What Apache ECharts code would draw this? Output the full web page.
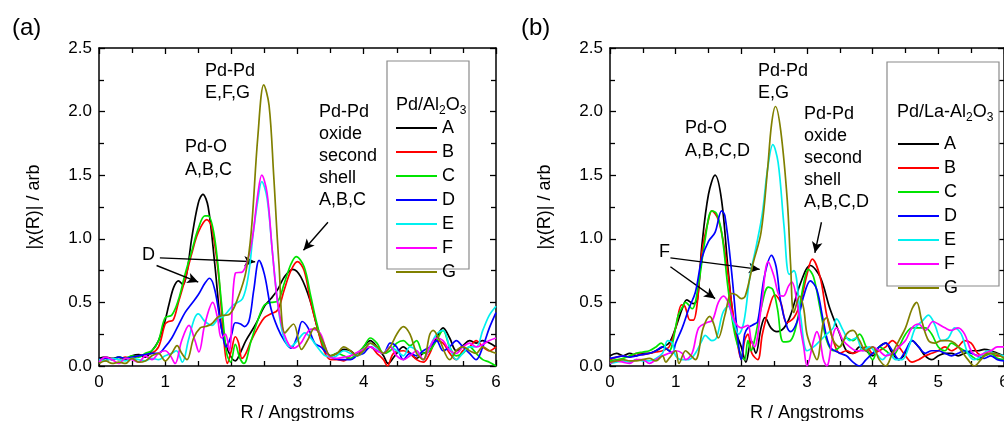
<!DOCTYPE html>
<html>
<head>
<meta charset="utf-8">
<script src="https://cdn.jsdelivr.net/npm/echarts/dist/echarts.min.js"></script>
<style>
html,body{margin:0;padding:0;background:#fff}
#chart{width:1004px;height:421px}
</style>
</head>
<body>
<div id="chart"></div>
<script>
// Fourier-transform magnitudes |chi(R)| for samples A-G, two catalyst supports.
const sampleNames = ['A', 'B', 'C', 'D', 'E', 'F', 'G'];

// (a) Pd/Al2O3, [R (Angstrom), |chi(R)|]
const aA = [[0,0.06],[0.1,0.07],[0.2,0.06],[0.3,0.07],[0.4,0.05],[0.5,0.08],[0.6,0.09],[0.7,0.07],[0.8,0.12],[0.9,0.2],[1.0,0.36],[1.06,0.49],[1.13,0.62],[1.2,0.67],[1.27,0.64],[1.33,0.74],[1.4,1.0],[1.5,1.28],[1.57,1.35],[1.65,1.25],[1.75,0.8],[1.85,0.3],[1.95,0.12],[2.06,0.04],[2.15,0.12],[2.22,0.2],[2.37,0.33],[2.5,0.47],[2.6,0.53],[2.7,0.6],[2.8,0.7],[2.93,0.76],[3.05,0.7],[3.2,0.5],[3.3,0.3],[3.4,0.15],[3.5,0.08],[3.6,0.1],[3.7,0.13],[3.8,0.12],[3.9,0.08],[4.0,0.15],[4.1,0.2],[4.2,0.15],[4.3,0.08],[4.37,0.02],[4.47,0.08],[4.6,0.15],[4.7,0.1],[4.8,0.06],[4.9,0.1],[5.0,0.12],[5.1,0.22],[5.2,0.3],[5.3,0.22],[5.4,0.12],[5.5,0.16],[5.6,0.2],[5.7,0.18],[5.8,0.2],[5.9,0.18],[6.0,0.15]];
const aB = [[0,0.05],[0.1,0.04],[0.2,0.06],[0.3,0.05],[0.4,0.07],[0.5,0.06],[0.6,0.08],[0.7,0.09],[0.8,0.1],[0.9,0.15],[1.0,0.33],[1.05,0.35],[1.12,0.36],[1.2,0.5],[1.3,0.68],[1.4,0.88],[1.5,1.05],[1.63,1.15],[1.7,1.1],[1.8,0.75],[1.88,0.25],[1.94,0.02],[2.0,0.12],[2.06,0.23],[2.11,0.18],[2.16,0.06],[2.22,0.1],[2.3,0.2],[2.4,0.3],[2.5,0.38],[2.6,0.41],[2.7,0.44],[2.8,0.6],[2.9,0.75],[3.0,0.82],[3.1,0.75],[3.2,0.5],[3.3,0.3],[3.4,0.12],[3.5,0.05],[3.6,0.05],[3.7,0.04],[3.8,0.08],[3.9,0.1],[4.0,0.12],[4.1,0.15],[4.2,0.1],[4.3,0.05],[4.36,0.0],[4.45,0.1],[4.6,0.12],[4.7,0.1],[4.8,0.05],[4.9,0.03],[5.0,0.1],[5.1,0.2],[5.2,0.18],[5.3,0.1],[5.4,0.05],[5.5,0.12],[5.6,0.15],[5.7,0.2],[5.8,0.15],[5.9,0.12],[6.0,0.15]];
const aC = [[0,0.04],[0.1,0.06],[0.2,0.05],[0.3,0.07],[0.4,0.06],[0.5,0.08],[0.6,0.07],[0.7,0.1],[0.8,0.12],[0.9,0.2],[1.0,0.38],[1.1,0.4],[1.2,0.52],[1.3,0.72],[1.4,0.9],[1.5,1.08],[1.6,1.18],[1.65,1.18],[1.75,1.0],[1.85,0.5],[1.93,0.1],[1.99,0.03],[2.06,0.17],[2.13,0.06],[2.19,0.02],[2.3,0.2],[2.4,0.36],[2.5,0.48],[2.6,0.5],[2.7,0.51],[2.8,0.65],[2.9,0.8],[2.98,0.86],[3.1,0.78],[3.2,0.55],[3.3,0.32],[3.4,0.15],[3.5,0.08],[3.6,0.1],[3.7,0.08],[3.8,0.06],[3.9,0.1],[4.0,0.15],[4.1,0.22],[4.2,0.18],[4.3,0.1],[4.4,0.12],[4.5,0.18],[4.6,0.2],[4.7,0.16],[4.8,0.2],[4.9,0.1],[5.0,0.12],[5.1,0.2],[5.2,0.28],[5.3,0.15],[5.4,0.08],[5.5,0.1],[5.6,0.15],[5.7,0.1],[5.8,0.05],[5.9,0.03],[6.0,0.0]];
const aD = [[0,0.05],[0.1,0.06],[0.2,0.05],[0.3,0.07],[0.4,0.06],[0.5,0.07],[0.6,0.08],[0.7,0.09],[0.8,0.1],[0.9,0.1],[1.0,0.15],[1.1,0.22],[1.2,0.32],[1.3,0.42],[1.4,0.49],[1.5,0.56],[1.6,0.65],[1.67,0.69],[1.75,0.6],[1.85,0.3],[1.92,0.15],[2.0,0.24],[2.06,0.34],[2.14,0.33],[2.2,0.31],[2.27,0.36],[2.34,0.6],[2.42,0.83],[2.5,0.72],[2.6,0.45],[2.7,0.3],[2.8,0.2],[2.9,0.14],[3.0,0.24],[3.07,0.35],[3.16,0.3],[3.26,0.18],[3.35,0.15],[3.45,0.1],[3.55,0.06],[3.7,0.05],[3.8,0.05],[3.9,0.08],[4.0,0.1],[4.1,0.15],[4.2,0.12],[4.3,0.1],[4.4,0.18],[4.5,0.15],[4.6,0.05],[4.7,0.1],[4.8,0.08],[4.9,0.12],[5.0,0.15],[5.1,0.2],[5.2,0.12],[5.3,0.15],[5.4,0.2],[5.5,0.15],[5.6,0.1],[5.7,0.05],[5.8,0.15],[5.9,0.3],[6.0,0.42]];
const aE = [[0,0.05],[0.1,0.04],[0.2,0.06],[0.3,0.05],[0.4,0.04],[0.5,0.06],[0.6,0.05],[0.7,0.04],[0.8,0.06],[0.9,0.05],[1.0,0.08],[1.1,0.1],[1.17,0.12],[1.26,0.03],[1.35,0.2],[1.44,0.37],[1.5,0.41],[1.6,0.35],[1.71,0.32],[1.8,0.37],[1.9,0.4],[2.03,0.48],[2.17,0.53],[2.26,0.72],[2.33,1.04],[2.4,1.3],[2.46,1.45],[2.54,1.32],[2.62,0.9],[2.7,0.5],[2.78,0.25],[2.89,0.15],[3.0,0.2],[3.11,0.26],[3.2,0.22],[3.3,0.15],[3.42,0.08],[3.55,0.07],[3.7,0.12],[3.8,0.1],[3.9,0.08],[4.0,0.12],[4.1,0.18],[4.2,0.14],[4.3,0.1],[4.4,0.15],[4.5,0.12],[4.6,0.08],[4.7,0.15],[4.8,0.12],[4.9,0.05],[5.0,0.15],[5.1,0.25],[5.2,0.28],[5.3,0.15],[5.4,0.05],[5.5,0.1],[5.6,0.15],[5.7,0.15],[5.8,0.28],[5.9,0.4],[6.0,0.47]];
const aF = [[0,0.03],[0.1,0.07],[0.2,0.05],[0.3,0.02],[0.4,0.06],[0.5,0.05],[0.6,0.03],[0.7,0.08],[0.8,0.05],[0.9,0.1],[1.0,0.12],[1.08,0.08],[1.15,0.02],[1.25,0.2],[1.36,0.32],[1.45,0.2],[1.51,0.11],[1.6,0.33],[1.72,0.5],[1.79,0.38],[1.85,0.22],[1.91,0.25],[1.97,0.12],[2.06,0.73],[2.17,0.74],[2.3,0.95],[2.4,1.35],[2.46,1.5],[2.54,1.36],[2.62,0.9],[2.7,0.5],[2.8,0.25],[2.94,0.14],[3.05,0.18],[3.13,0.25],[3.21,0.29],[3.34,0.26],[3.42,0.15],[3.49,0.07],[3.6,0.06],[3.7,0.07],[3.8,0.08],[3.95,0.12],[4.1,0.15],[4.2,0.12],[4.3,0.1],[4.4,0.15],[4.5,0.08],[4.6,0.05],[4.7,0.08],[4.8,0.12],[4.9,0.05],[5.0,0.15],[5.1,0.22],[5.2,0.2],[5.3,0.12],[5.4,0.1],[5.5,0.15],[5.6,0.18],[5.7,0.15],[5.8,0.17],[5.9,0.2],[6.0,0.22]];
const aG = [[0,0.02],[0.1,0.04],[0.2,0.02],[0.3,0.03],[0.4,0.02],[0.5,0.06],[0.6,0.03],[0.7,0.04],[0.8,0.08],[0.9,0.1],[1.0,0.04],[1.1,0.1],[1.18,0.16],[1.25,0.1],[1.33,0.05],[1.43,0.22],[1.53,0.3],[1.61,0.31],[1.7,0.33],[1.81,0.39],[1.98,0.41],[2.11,0.55],[2.22,0.74],[2.3,1.05],[2.4,1.8],[2.49,2.21],[2.57,2.05],[2.64,1.5],[2.72,0.8],[2.81,0.26],[2.94,0.33],[3.06,0.13],[3.15,0.2],[3.26,0.3],[3.38,0.2],[3.5,0.08],[3.6,0.1],[3.7,0.15],[3.8,0.12],[3.9,0.08],[4.0,0.12],[4.1,0.18],[4.2,0.15],[4.3,0.1],[4.4,0.15],[4.5,0.25],[4.6,0.31],[4.7,0.25],[4.8,0.1],[4.9,0.05],[5.0,0.25],[5.05,0.28],[5.15,0.2],[5.3,0.05],[5.4,0.12],[5.5,0.15],[5.6,0.12],[5.7,0.1],[5.8,0.15],[5.9,0.12],[6.0,0.1]];

// (b) Pd/La-Al2O3, [R (Angstrom), |chi(R)|]
const bA = [[0,0.08],[0.1,0.1],[0.2,0.08],[0.3,0.1],[0.4,0.08],[0.5,0.1],[0.6,0.1],[0.7,0.12],[0.8,0.15],[0.9,0.18],[1.0,0.3],[1.1,0.45],[1.17,0.52],[1.27,0.49],[1.33,0.52],[1.4,0.95],[1.5,1.35],[1.6,1.5],[1.7,1.3],[1.8,0.75],[1.9,0.3],[2.0,0.15],[2.07,0.03],[2.15,0.2],[2.22,0.1],[2.3,0.3],[2.36,0.38],[2.45,0.3],[2.54,0.27],[2.65,0.3],[2.75,0.4],[2.9,0.65],[3.05,0.79],[3.2,0.7],[3.35,0.45],[3.5,0.25],[3.6,0.12],[3.7,0.1],[3.8,0.15],[3.9,0.12],[4.0,0.08],[4.1,0.15],[4.2,0.18],[4.3,0.1],[4.4,0.05],[4.5,0.1],[4.6,0.2],[4.7,0.15],[4.8,0.08],[4.9,0.05],[5.0,0.08],[5.1,0.1],[5.2,0.1],[5.3,0.08],[5.4,0.1],[5.5,0.12],[5.6,0.12],[5.7,0.13],[5.8,0.12],[5.9,0.1],[6.0,0.08]];
const bB = [[0,0.05],[0.1,0.07],[0.2,0.08],[0.3,0.07],[0.4,0.1],[0.5,0.09],[0.6,0.1],[0.7,0.11],[0.8,0.12],[0.9,0.15],[1.0,0.3],[1.09,0.48],[1.14,0.47],[1.22,0.36],[1.27,0.36],[1.33,0.5],[1.4,0.9],[1.5,1.15],[1.55,1.22],[1.65,1.15],[1.75,0.9],[1.85,0.5],[1.95,0.15],[2.0,0.05],[2.05,0.2],[2.1,0.25],[2.16,0.1],[2.25,0.05],[2.32,0.25],[2.42,0.45],[2.51,0.56],[2.6,0.5],[2.69,0.34],[2.8,0.38],[2.9,0.5],[3.0,0.72],[3.08,0.84],[3.2,0.7],[3.3,0.4],[3.4,0.2],[3.5,0.1],[3.6,0.12],[3.7,0.1],[3.8,0.12],[3.9,0.15],[4.0,0.1],[4.1,0.12],[4.2,0.15],[4.3,0.2],[4.4,0.15],[4.5,0.08],[4.6,0.03],[4.7,0.05],[4.8,0.08],[4.9,0.1],[5.0,0.12],[5.1,0.15],[5.2,0.12],[5.3,0.15],[5.4,0.2],[5.5,0.18],[5.6,0.1],[5.7,0.08],[5.8,0.1],[5.9,0.08],[6.0,0.08]];
const bC = [[0,0.04],[0.1,0.05],[0.2,0.06],[0.3,0.08],[0.4,0.1],[0.5,0.11],[0.6,0.12],[0.7,0.15],[0.78,0.18],[0.85,0.14],[0.9,0.12],[1.04,0.4],[1.1,0.46],[1.15,0.5],[1.25,0.45],[1.35,0.65],[1.45,1.0],[1.55,1.22],[1.62,1.2],[1.7,1.05],[1.8,0.6],[1.9,0.25],[2.0,0.08],[2.05,0.05],[2.1,0.2],[2.15,0.12],[2.2,0.2],[2.3,0.45],[2.41,0.62],[2.48,0.6],[2.55,0.45],[2.64,0.19],[2.75,0.2],[2.85,0.35],[2.95,0.65],[3.02,0.76],[3.1,0.7],[3.2,0.45],[3.3,0.2],[3.4,0.12],[3.5,0.15],[3.6,0.22],[3.7,0.2],[3.8,0.25],[3.9,0.15],[4.0,0.05],[4.1,0.15],[4.2,0.12],[4.3,0.08],[4.4,0.15],[4.5,0.25],[4.6,0.3],[4.7,0.3],[4.8,0.3],[4.9,0.25],[5.0,0.15],[5.1,0.12],[5.2,0.18],[5.3,0.15],[5.4,0.12],[5.5,0.08],[5.6,0.05],[5.7,0.08],[5.8,0.1],[5.9,0.06],[6.0,0.05]];
const bD = [[0,0.06],[0.1,0.07],[0.2,0.08],[0.3,0.07],[0.4,0.08],[0.5,0.09],[0.6,0.1],[0.7,0.12],[0.8,0.15],[0.9,0.12],[0.95,0.1],[1.0,0.18],[1.1,0.3],[1.2,0.45],[1.3,0.58],[1.4,0.85],[1.5,0.98],[1.6,1.05],[1.7,1.22],[1.75,1.18],[1.85,0.75],[1.95,0.2],[2.0,0.05],[2.05,0.25],[2.1,0.3],[2.2,0.33],[2.25,0.35],[2.35,0.7],[2.46,0.87],[2.53,0.78],[2.6,0.5],[2.7,0.3],[2.75,0.27],[2.85,0.35],[2.95,0.55],[3.05,0.67],[3.15,0.6],[3.25,0.35],[3.35,0.15],[3.5,0.1],[3.6,0.08],[3.7,0.03],[3.8,0.0],[3.9,0.05],[4.0,0.1],[4.1,0.15],[4.2,0.18],[4.3,0.12],[4.4,0.05],[4.5,0.12],[4.6,0.2],[4.7,0.15],[4.8,0.1],[4.9,0.12],[5.0,0.12],[5.1,0.1],[5.2,0.08],[5.3,0.1],[5.4,0.12],[5.5,0.1],[5.6,0.08],[5.7,0.06],[5.8,0.08],[5.9,0.05],[6.0,0.04]];
const bE = [[0,0.02],[0.1,0.03],[0.2,0.04],[0.3,0.03],[0.4,0.05],[0.5,0.04],[0.6,0.04],[0.7,0.06],[0.8,0.1],[0.88,0.2],[0.95,0.18],[1.0,0.08],[1.1,0.05],[1.2,0.05],[1.3,0.1],[1.4,0.2],[1.45,0.24],[1.55,0.2],[1.62,0.22],[1.72,0.42],[1.8,0.47],[1.88,0.35],[1.96,0.25],[2.04,0.35],[2.13,0.7],[2.23,0.95],[2.32,1.2],[2.4,1.55],[2.48,1.74],[2.56,1.6],[2.65,1.1],[2.73,0.72],[2.8,0.75],[2.9,0.4],[3.0,0.12],[3.1,0.15],[3.2,0.2],[3.3,0.25],[3.4,0.3],[3.45,0.37],[3.55,0.28],[3.65,0.2],[3.75,0.22],[3.85,0.12],[3.95,0.15],[4.05,0.1],[4.15,0.05],[4.25,0.1],[4.35,0.05],[4.45,0.05],[4.55,0.15],[4.65,0.3],[4.75,0.35],[4.85,0.4],[4.95,0.32],[5.05,0.2],[5.15,0.22],[5.25,0.3],[5.35,0.25],[5.45,0.1],[5.55,0.05],[5.65,0.08],[5.75,0.12],[5.85,0.1],[6.0,0.08]];
const bF = [[0,0.02],[0.1,0.04],[0.2,0.03],[0.3,0.02],[0.4,0.05],[0.5,0.05],[0.6,0.02],[0.7,0.05],[0.8,0.08],[0.9,0.1],[1.0,0.12],[1.1,0.1],[1.15,0.05],[1.25,0.1],[1.35,0.3],[1.47,0.34],[1.56,0.36],[1.65,0.5],[1.73,0.55],[1.8,0.5],[1.9,0.35],[2.0,0.3],[2.1,0.32],[2.15,0.2],[2.2,0.15],[2.3,0.45],[2.41,0.82],[2.5,0.7],[2.57,0.56],[2.64,0.55],[2.72,0.63],[2.77,0.66],[2.85,0.5],[2.9,0.3],[2.95,0.15],[3.0,0.0],[3.1,0.2],[3.15,0.27],[3.2,0.2],[3.25,0.05],[3.3,0.0],[3.4,0.25],[3.45,0.3],[3.55,0.2],[3.65,0.15],[3.75,0.12],[3.9,0.12],[4.0,0.15],[4.1,0.12],[4.2,0.08],[4.3,0.1],[4.4,0.15],[4.5,0.2],[4.6,0.3],[4.7,0.33],[4.8,0.28],[4.92,0.35],[5.0,0.33],[5.1,0.3],[5.2,0.28],[5.3,0.3],[5.4,0.25],[5.5,0.12],[5.6,0.08],[5.7,0.1],[5.8,0.12],[5.9,0.15],[6.0,0.15]];
const bG = [[0,0.03],[0.1,0.04],[0.2,0.05],[0.3,0.04],[0.4,0.04],[0.5,0.05],[0.6,0.06],[0.7,0.04],[0.8,0.08],[0.85,0.03],[0.9,0.06],[1.0,0.12],[1.05,0.02],[1.15,0.12],[1.2,0.1],[1.3,0.05],[1.42,0.3],[1.52,0.39],[1.58,0.33],[1.65,0.22],[1.75,0.4],[1.85,0.57],[1.92,0.56],[2.0,0.53],[2.06,0.55],[2.18,0.81],[2.3,1.05],[2.4,1.55],[2.46,1.9],[2.52,2.04],[2.6,1.85],[2.7,1.3],[2.75,0.8],[2.8,0.42],[2.89,0.55],[2.95,0.45],[3.0,0.25],[3.1,0.1],[3.15,0.05],[3.25,0.35],[3.3,0.38],[3.4,0.2],[3.5,0.15],[3.6,0.25],[3.7,0.28],[3.8,0.2],[3.9,0.12],[4.0,0.15],[4.1,0.05],[4.2,0.0],[4.3,0.1],[4.4,0.2],[4.5,0.3],[4.6,0.45],[4.67,0.5],[4.75,0.35],[4.85,0.2],[4.95,0.18],[5.05,0.2],[5.15,0.2],[5.25,0.18],[5.35,0.12],[5.45,0.05],[5.55,0.0],[5.65,0.05],[5.75,0.1],[5.85,0.1],[6.0,0.06]];

// Arrow start/end points in data units [R, |chi(R)|]
const arrowsA = [[[0.92,0.85],[2.36,0.82]], [[0.87,0.79],[1.50,0.66]], [[3.46,1.13],[3.09,0.91]]];
const arrowsB = [[[0.92,0.85],[2.28,0.76]], [[0.92,0.78],[1.60,0.53]], [[3.22,1.13],[3.12,0.89]]];

const panelA = [aA, aB, aC, aD, aE, aF, aG];
const panelB = [bA, bB, bC, bD, bE, bF, bG];

const palette = ['#000000', '#ff0000', '#00e400', '#0000ff', '#00f0f0', '#ff00ff', '#808000'];
const FONT = '"Liberation Sans", Arial, Helvetica, sans-serif';

const chart = echarts.init(document.getElementById('chart'), null, {renderer: 'canvas'});

function xAx(grid, pos, labels) {
  return {
    gridIndex: grid, type: 'value', position: pos, min: 0, max: 6, interval: 1,
    axisLine: {show: true, onZero: false, lineStyle: {color: '#000', width: 1.5}},
    axisTick: {show: true, inside: true, length: 6, lineStyle: {color: '#000', width: 1.3}},
    minorTick: {show: true, splitNumber: 2, length: 5, lineStyle: {color: '#000', width: 1.3}},
    splitLine: {show: false},
    axisLabel: {show: labels, margin: 8, color: '#000', fontSize: 17, fontFamily: FONT},
    name: labels ? 'R / Angstroms' : '',
    nameLocation: 'middle', nameGap: 38,
    nameTextStyle: {color: '#000', fontSize: 18, fontFamily: FONT}
  };
}
function yAx(grid, pos, labels) {
  return {
    gridIndex: grid, type: 'value', position: pos, min: 0, max: 2.5, interval: 0.5,
    axisLine: {show: true, onZero: false, lineStyle: {color: '#000', width: 1.5}},
    axisTick: {show: true, inside: true, length: 6, lineStyle: {color: '#000', width: 1.3}},
    minorTick: {show: true, splitNumber: 2, length: 5, lineStyle: {color: '#000', width: 1.3}},
    splitLine: {show: false},
    axisLabel: {show: labels, margin: 7, color: '#000', fontSize: 17, fontFamily: FONT,
      formatter: v => v.toFixed(1)},
    name: labels ? '|\u03c7(R)| / arb' : '',
    nameLocation: 'middle', nameGap: 56, nameRotate: 90,
    nameTextStyle: {color: '#000', fontSize: 18, fontFamily: FONT}
  };
}

function curves(panel, axis) {
  return panel.map((d, i) => ({
    type: 'line', name: sampleNames[i], data: d,
    xAxisIndex: axis, yAxisIndex: axis,
    smooth: 0.35, symbol: 'none', silent: true, z: 2 + i,
    lineStyle: {color: palette[i], width: 1.7},
    itemStyle: {color: palette[i]}
  }));
}
function arrows(list, axis) {
  return {
    type: 'line', data: [], xAxisIndex: axis, yAxisIndex: axis, silent: true, z: 20,
    markLine: {
      silent: true, animation: false,
      symbol: ['none', 'arrow'], symbolSize: [8, 11],
      label: {show: false},
      lineStyle: {color: '#000', width: 1.4, type: 'solid'},
      emphasis: {disabled: true},
      data: list.map(a => [{coord: a[0]}, {coord: a[1]}])
    }
  };
}

function txt(x, y, text, size, lh) {
  return {type: 'text', left: x, top: y, z: 50, silent: true,
    style: {text: text, fill: '#000', font: size + 'px ' + FONT, lineHeight: lh || size + 4}};
}
function legendBox(x, y, w, h) {
  return {type: 'rect', shape: {x: x, y: y, width: w, height: h}, z: 40, silent: true,
    style: {fill: '#fff', stroke: '#8a8a8a', lineWidth: 1.2}};
}
function legendTitle(x, y, parts) {
  return {type: 'text', left: x, top: y, z: 50, silent: true,
    style: {
      text: parts, fill: '#000',
      rich: {
        m: {fontSize: 18, fontFamily: FONT, lineHeight: 24, verticalAlign: 'middle', fill: '#000'},
        s: {fontSize: 12, fontFamily: FONT, lineHeight: 12, verticalAlign: 'bottom', fill: '#000'}
      }
    }};
}
function legendCfg(x, y) {
  return {
    data: sampleNames.map(n => ({name: n, icon: 'rect'})),
    orient: 'vertical', left: x, top: y, z: 60,
    itemWidth: 41, itemHeight: 2, itemGap: 6, selectedMode: false,
    textStyle: {color: '#000', fontSize: 18, fontFamily: FONT, lineHeight: 16, padding: [0, 0, 0, 0]},
    padding: 0
  };
}

chart.setOption({
  animation: false,
  backgroundColor: '#fff',
  grid: [
    {left: 99, top: 48, width: 397, height: 318, outerBoundsMode: 'none', containLabel: false},
    {left: 610, top: 48, width: 394, height: 318, outerBoundsMode: 'none', containLabel: false}
  ],
  xAxis: [xAx(0, 'bottom', true), xAx(0, 'top', false), xAx(1, 'bottom', true), xAx(1, 'top', false)],
  yAxis: [yAx(0, 'left', true), yAx(0, 'right', false), yAx(1, 'left', true), yAx(1, 'right', false)],
  legend: [legendCfg(396, 119), legendCfg(898, 135)],
  series: [].concat(curves(panelA, 0), curves(panelB, 2), [arrows(arrowsA, 0), arrows(arrowsB, 2)]),
  graphic: [
    txt(12, 14, '(a)', 24, 28),
    txt(521, 14, '(b)', 24, 28),
    legendBox(387, 61, 82, 208),
    legendTitle(396, 96, '{m|Pd/Al}{s|2}{m|O}{s|3}'),
    legendBox(887, 62, 112, 224),
    legendTitle(897, 103, '{m|Pd/La-Al}{s|2}{m|O}{s|3}'),
    txt(205, 60, 'Pd-Pd\nE,F,G', 18, 22),
    txt(185, 136, 'Pd-O\nA,B,C', 18, 23),
    txt(319, 101, 'Pd-Pd\noxide\nsecond\nshell\nA,B,C', 18, 22),
    txt(142, 244, 'D', 18, 22),
    txt(758, 60, 'Pd-Pd\nE,G', 18, 22),
    txt(685, 117, 'Pd-O\nA,B,C,D', 18, 23),
    txt(804, 103, 'Pd-Pd\noxide\nsecond\nshell\nA,B,C,D', 18, 22),
    txt(659, 241, 'F', 18, 22)
  ]
});
</script>
</body>
</html>
